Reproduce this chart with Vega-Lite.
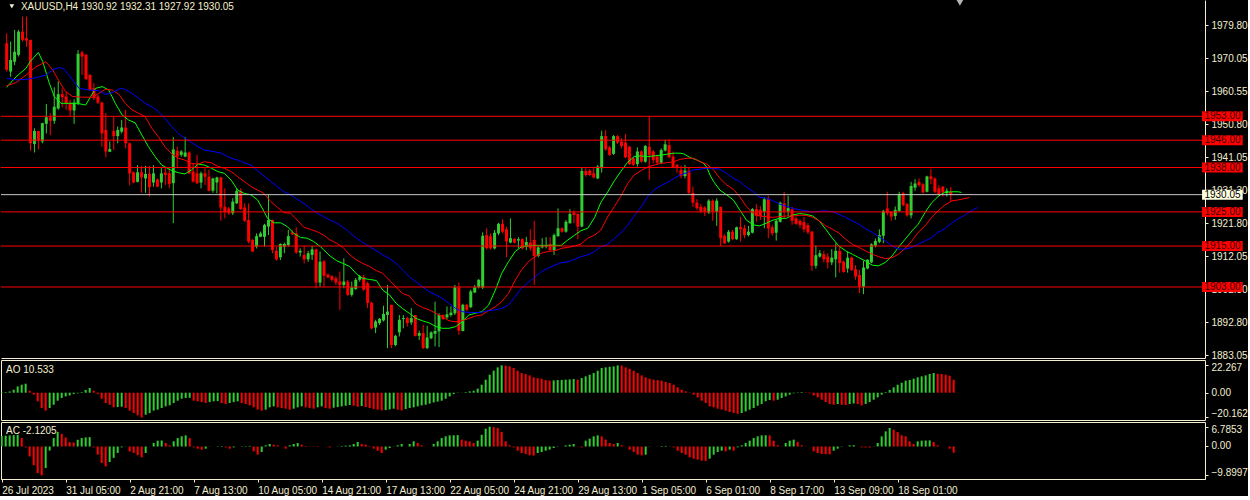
{
"$schema":"https://vega.github.io/schema/vega-lite/v6.json",
"background":"#000000",
"padding":0,
"autosize":{"type":"pad"},
"bounds":"flush",
"spacing":2,
"config":{"view":{"stroke":null},"font":"Liberation Sans",
"axis":{"labelColor":"#F2EED2","domainColor":"#F2EED2","tickColor":"#F2EED2","labelFont":"Liberation Sans","labelFontSize":10,"grid":false,"labelFlush":false,"labelOverlap":false}},
"datasets":{
"bars":[
{"i":0,"o":1974.4,"h":1977.3,"l":1966.1,"c":1966.6,"ao":0.3,"ac":3.6},
{"i":1,"o":1966.1,"h":1974.9,"l":1964.6,"c":1969.5,"ao":0.5,"ac":3.7},
{"i":2,"o":1969.0,"h":1978.3,"l":1968.0,"c":1971.9,"ao":1.0,"ac":3.8},
{"i":3,"o":1971.0,"h":1978.3,"l":1970.5,"c":1977.8,"ao":2.4,"ac":3.9},
{"i":4,"o":1977.8,"h":1982.2,"l":1974.9,"c":1975.4,"ao":5.1,"ac":4.0},
{"i":5,"o":1975.9,"h":1982.2,"l":1973.4,"c":1975.2,"ao":6.5,"ac":2.9},
{"i":6,"o":1975.4,"h":1975.4,"l":1942.9,"c":1945.1,"ao":7.3,"ac":-0.3},
{"i":7,"o":1944.9,"h":1949.5,"l":1942.4,"c":1948.7,"ao":1.6,"ac":-3.4},
{"i":8,"o":1948.7,"h":1948.7,"l":1943.3,"c":1946.1,"ao":-1.6,"ac":-6.4},
{"i":9,"o":1945.6,"h":1951.1,"l":1945.1,"c":1951.0,"ao":-7.0,"ac":-9.1},
{"i":10,"o":1950.8,"h":1956.6,"l":1948.0,"c":1952.7,"ao":-12.5,"ac":-9.8997},
{"i":11,"o":1952.7,"h":1953.9,"l":1947.5,"c":1951.7,"ao":-14.6,"ac":-7.4},
{"i":12,"o":1951.7,"h":1961.5,"l":1950.8,"c":1955.8,"ao":-12.5,"ac":-1.4},
{"i":13,"o":1955.3,"h":1963.2,"l":1954.9,"c":1959.5,"ao":-9.8,"ac":2.9},
{"i":14,"o":1959.5,"h":1961.2,"l":1955.6,"c":1958.6,"ao":-6.5,"ac":5.0},
{"i":15,"o":1958.8,"h":1960.2,"l":1954.9,"c":1956.6,"ao":-4.3,"ac":4.3},
{"i":16,"o":1957.0,"h":1957.8,"l":1953.1,"c":1954.7,"ao":-3.0,"ac":3.1},
{"i":17,"o":1954.7,"h":1958.0,"l":1950.8,"c":1957.0,"ao":-2.2,"ac":1.5},
{"i":18,"o":1956.8,"h":1972.4,"l":1956.3,"c":1971.3,"ao":-1.1,"ac":1.4},
{"i":19,"o":1971.7,"h":1972.2,"l":1965.1,"c":1970.5,"ao":-0.5,"ac":2.3},
{"i":20,"o":1971.0,"h":1971.3,"l":1963.6,"c":1963.9,"ao":0.5,"ac":2.9},
{"i":21,"o":1965.1,"h":1965.4,"l":1960.5,"c":1960.7,"ao":2.2,"ac":3.1},
{"i":22,"o":1961.2,"h":1962.7,"l":1957.8,"c":1958.3,"ao":3.8,"ac":3.2},
{"i":23,"o":1958.8,"h":1959.3,"l":1956.6,"c":1957.0,"ao":1.6,"ac":-0.3},
{"i":24,"o":1957.0,"h":1957.3,"l":1944.1,"c":1948.0,"ao":-1.1,"ac":-2.8},
{"i":25,"o":1949.0,"h":1953.9,"l":1941.0,"c":1942.7,"ao":-4.9,"ac":-5.65},
{"i":26,"o":1942.6,"h":1945.6,"l":1942.6,"c":1943.4,"ao":-8.4,"ac":-6.8},
{"i":27,"o":1948.7,"h":1952.9,"l":1943.1,"c":1947.2,"ao":-9.8,"ac":-5.3},
{"i":28,"o":1947.2,"h":1950.0,"l":1945.1,"c":1949.0,"ao":-11.9,"ac":-3.9},
{"i":29,"o":1948.5,"h":1951.9,"l":1948.0,"c":1949.7,"ao":-11.7,"ac":-2.2},
{"i":30,"o":1949.7,"h":1954.9,"l":1943.6,"c":1945.1,"ao":-11.4,"ac":-0.3},
{"i":31,"o":1945.1,"h":1945.3,"l":1932.8,"c":1936.3,"ao":-12.5,"ac":-0.05},
{"i":32,"o":1936.6,"h":1936.8,"l":1933.4,"c":1933.6,"ao":-14.6,"ac":-1.7},
{"i":33,"o":1933.8,"h":1938.7,"l":1933.6,"c":1936.6,"ao":-16.5,"ac":-2.2},
{"i":34,"o":1936.6,"h":1938.5,"l":1930.6,"c":1935.1,"ao":-18.4,"ac":-3.0},
{"i":35,"o":1934.8,"h":1938.5,"l":1930.6,"c":1936.1,"ao":-20.16,"ac":-3.7},
{"i":36,"o":1936.1,"h":1938.5,"l":1929.5,"c":1932.2,"ao":-17.9,"ac":-2.2},
{"i":37,"o":1933.6,"h":1938.7,"l":1932.4,"c":1936.3,"ao":-16.5,"ac":-0.05},
{"i":38,"o":1934.5,"h":1934.8,"l":1932.2,"c":1932.4,"ao":-14.6,"ac":1.2},
{"i":39,"o":1933.6,"h":1937.8,"l":1931.9,"c":1936.3,"ao":-13.8,"ac":2.0},
{"i":40,"o":1936.5,"h":1937.8,"l":1932.9,"c":1935.8,"ao":-12.5,"ac":2.05},
{"i":41,"o":1936.3,"h":1937.8,"l":1931.9,"c":1933.2,"ao":-11.1,"ac":1.2},
{"i":42,"o":1933.4,"h":1946.9,"l":1921.7,"c":1943.3,"ao":-10.3,"ac":0.4},
{"i":43,"o":1942.9,"h":1944.1,"l":1937.8,"c":1941.2,"ao":-8.4,"ac":1.8},
{"i":44,"o":1941.7,"h":1943.1,"l":1941.2,"c":1942.7,"ao":-6.5,"ac":2.9},
{"i":45,"o":1941.2,"h":1946.9,"l":1941.0,"c":1942.4,"ao":-4.9,"ac":3.5},
{"i":46,"o":1942.4,"h":1942.7,"l":1936.1,"c":1936.3,"ao":-4.3,"ac":3.8},
{"i":47,"o":1936.8,"h":1939.2,"l":1933.6,"c":1933.9,"ao":-4.1,"ac":2.9},
{"i":48,"o":1936.3,"h":1941.7,"l":1933.2,"c":1933.4,"ao":-6.5,"ac":-0.3},
{"i":49,"o":1933.6,"h":1936.8,"l":1931.9,"c":1936.3,"ao":-7.0,"ac":-0.75},
{"i":50,"o":1936.3,"h":1937.8,"l":1932.9,"c":1935.3,"ao":-7.6,"ac":-1.1},
{"i":51,"o":1935.3,"h":1937.3,"l":1931.0,"c":1931.2,"ao":-8.4,"ac":-0.75},
{"i":52,"o":1931.2,"h":1935.0,"l":1930.6,"c":1934.8,"ao":-7.6,"ac":-0.05},
{"i":53,"o":1933.6,"h":1935.3,"l":1930.4,"c":1935.1,"ao":-7.0,"ac":0.0},
{"i":54,"o":1935.1,"h":1935.3,"l":1922.4,"c":1926.3,"ao":-6.8,"ac":0.1},
{"i":55,"o":1926.5,"h":1931.9,"l":1923.1,"c":1925.0,"ao":-8.4,"ac":0.17},
{"i":56,"o":1926.0,"h":1926.5,"l":1924.1,"c":1924.6,"ao":-9.2,"ac":-0.3},
{"i":57,"o":1924.6,"h":1929.0,"l":1924.1,"c":1928.0,"ao":-8.4,"ac":-0.75},
{"i":58,"o":1927.5,"h":1931.9,"l":1927.3,"c":1931.2,"ao":-7.6,"ac":-0.3},
{"i":59,"o":1931.2,"h":1931.9,"l":1925.6,"c":1925.8,"ao":-7.0,"ac":0.0},
{"i":60,"o":1926.3,"h":1927.5,"l":1922.1,"c":1922.4,"ao":-8.4,"ac":0.1},
{"i":61,"o":1922.6,"h":1927.5,"l":1915.8,"c":1916.3,"ao":-9.2,"ac":0.15},
{"i":62,"o":1916.8,"h":1917.0,"l":1913.3,"c":1913.4,"ao":-10.3,"ac":0.2},
{"i":63,"o":1914.8,"h":1918.7,"l":1914.3,"c":1917.9,"ao":-11.9,"ac":-1.66},
{"i":64,"o":1917.7,"h":1919.2,"l":1917.6,"c":1918.7,"ao":-13.8,"ac":-2.8},
{"i":65,"o":1917.7,"h":1921.5,"l":1914.8,"c":1921.2,"ao":-14.6,"ac":-1.9},
{"i":66,"o":1920.7,"h":1930.2,"l":1918.2,"c":1922.6,"ao":-13.8,"ac":0.4},
{"i":67,"o":1922.6,"h":1922.8,"l":1912.9,"c":1913.8,"ao":-11.9,"ac":0.86},
{"i":68,"o":1913.6,"h":1914.8,"l":1910.7,"c":1911.1,"ao":-11.1,"ac":0.63},
{"i":69,"o":1911.7,"h":1915.8,"l":1910.9,"c":1915.6,"ao":-11.9,"ac":0.4},
{"i":70,"o":1914.8,"h":1916.0,"l":1912.9,"c":1915.6,"ao":-12.5,"ac":0.0},
{"i":71,"o":1915.3,"h":1919.7,"l":1914.8,"c":1917.9,"ao":-13.0,"ac":-0.74},
{"i":72,"o":1919.0,"h":1919.7,"l":1918.2,"c":1918.4,"ao":-13.8,"ac":0.4},
{"i":73,"o":1918.7,"h":1920.5,"l":1912.7,"c":1913.1,"ao":-13.0,"ac":0.86},
{"i":74,"o":1913.1,"h":1914.3,"l":1911.9,"c":1913.6,"ao":-11.9,"ac":1.2},
{"i":75,"o":1912.4,"h":1915.0,"l":1909.9,"c":1911.1,"ao":-11.1,"ac":0.63},
{"i":76,"o":1911.1,"h":1913.6,"l":1910.4,"c":1912.9,"ao":-11.9,"ac":0.17},
{"i":77,"o":1912.4,"h":1915.0,"l":1910.9,"c":1914.0,"ao":-12.5,"ac":-0.06},
{"i":78,"o":1914.0,"h":1914.3,"l":1902.6,"c":1904.3,"ao":-13.0,"ac":-0.1},
{"i":79,"o":1904.3,"h":1913.4,"l":1903.1,"c":1910.4,"ao":-11.9,"ac":-0.12},
{"i":80,"o":1910.5,"h":1910.9,"l":1903.1,"c":1906.3,"ao":-11.1,"ac":0.0},
{"i":81,"o":1906.6,"h":1907.0,"l":1905.6,"c":1905.8,"ao":-12.5,"ac":-0.05},
{"i":82,"o":1906.1,"h":1906.5,"l":1904.6,"c":1905.1,"ao":-13.0,"ac":-0.3},
{"i":83,"o":1905.5,"h":1906.1,"l":1903.6,"c":1904.3,"ao":-12.2,"ac":0.0},
{"i":84,"o":1904.6,"h":1907.5,"l":1896.3,"c":1903.6,"ao":-11.7,"ac":0.06},
{"i":85,"o":1903.6,"h":1911.4,"l":1902.6,"c":1904.6,"ao":-11.1,"ac":0.17},
{"i":86,"o":1904.6,"h":1905.1,"l":1900.4,"c":1900.7,"ao":-10.6,"ac":0.29},
{"i":87,"o":1900.7,"h":1904.6,"l":1900.2,"c":1902.9,"ao":-10.0,"ac":0.4},
{"i":88,"o":1902.4,"h":1905.6,"l":1902.2,"c":1905.1,"ao":-10.6,"ac":0.86},
{"i":89,"o":1905.1,"h":1906.5,"l":1904.6,"c":1906.1,"ao":-11.4,"ac":1.54},
{"i":90,"o":1905.9,"h":1906.6,"l":1901.9,"c":1902.2,"ao":-10.8,"ac":0.86},
{"i":91,"o":1904.1,"h":1904.6,"l":1896.8,"c":1898.3,"ao":-11.7,"ac":0.63},
{"i":92,"o":1898.4,"h":1898.7,"l":1890.6,"c":1890.9,"ao":-12.5,"ac":0.17},
{"i":93,"o":1891.1,"h":1893.4,"l":1889.5,"c":1892.9,"ao":-13.3,"ac":-0.74},
{"i":94,"o":1892.4,"h":1893.9,"l":1891.9,"c":1893.7,"ao":-13.8,"ac":-1.43},
{"i":95,"o":1893.2,"h":1897.5,"l":1892.9,"c":1895.1,"ao":-14.4,"ac":-2.23},
{"i":96,"o":1894.8,"h":1903.6,"l":1885.1,"c":1895.8,"ao":-14.1,"ac":-1.08},
{"i":97,"o":1897.8,"h":1897.8,"l":1885.1,"c":1886.0,"ao":-13.6,"ac":-0.51},
{"i":98,"o":1886.0,"h":1889.0,"l":1885.6,"c":1888.7,"ao":-13.0,"ac":0.06},
{"i":99,"o":1889.7,"h":1894.8,"l":1888.5,"c":1893.4,"ao":-13.8,"ac":0.4},
{"i":100,"o":1893.6,"h":1894.8,"l":1890.9,"c":1893.9,"ao":-14.4,"ac":0.86},
{"i":101,"o":1893.9,"h":1894.3,"l":1891.4,"c":1892.4,"ao":-13.3,"ac":0.0},
{"i":102,"o":1892.6,"h":1896.8,"l":1891.9,"c":1893.9,"ao":-12.5,"ac":0.86},
{"i":103,"o":1894.8,"h":1894.8,"l":1888.5,"c":1888.7,"ao":-11.9,"ac":1.77},
{"i":104,"o":1888.7,"h":1890.2,"l":1887.5,"c":1889.5,"ao":-11.1,"ac":1.2},
{"i":105,"o":1889.5,"h":1891.9,"l":1884.8,"c":1885.1,"ao":-10.3,"ac":0.4},
{"i":106,"o":1885.1,"h":1891.6,"l":1884.8,"c":1888.2,"ao":-9.8,"ac":0.06},
{"i":107,"o":1888.0,"h":1890.0,"l":1887.7,"c":1889.7,"ao":-8.9,"ac":0.0},
{"i":108,"o":1889.3,"h":1898.7,"l":1885.6,"c":1890.1,"ao":-7.9,"ac":0.86},
{"i":109,"o":1890.0,"h":1895.3,"l":1885.4,"c":1894.8,"ao":-7.2,"ac":1.77},
{"i":110,"o":1894.8,"h":1895.0,"l":1893.4,"c":1893.6,"ao":-6.5,"ac":2.91},
{"i":111,"o":1894.1,"h":1897.3,"l":1893.6,"c":1895.0,"ao":-4.9,"ac":3.48},
{"i":112,"o":1894.8,"h":1897.3,"l":1894.3,"c":1895.5,"ao":-3.0,"ac":3.82},
{"i":113,"o":1895.3,"h":1903.6,"l":1894.8,"c":1902.9,"ao":-1.1,"ac":3.85},
{"i":114,"o":1902.9,"h":1904.3,"l":1889.0,"c":1890.2,"ao":-0.2,"ac":3.9},
{"i":115,"o":1890.1,"h":1898.1,"l":1890.0,"c":1897.8,"ao":0.1,"ac":2.34},
{"i":116,"o":1897.8,"h":1898.1,"l":1896.0,"c":1896.3,"ao":0.5,"ac":2.0},
{"i":117,"o":1897.1,"h":1902.2,"l":1896.8,"c":1901.7,"ao":1.1,"ac":1.77},
{"i":118,"o":1901.4,"h":1903.6,"l":1901.2,"c":1902.9,"ao":1.6,"ac":1.2},
{"i":119,"o":1902.9,"h":1905.3,"l":1902.6,"c":1905.1,"ao":3.3,"ac":2.0},
{"i":120,"o":1902.8,"h":1919.0,"l":1902.4,"c":1918.0,"ao":6.5,"ac":4.0},
{"i":121,"o":1918.2,"h":1920.2,"l":1914.0,"c":1914.4,"ao":10.6,"ac":6.1},
{"i":122,"o":1917.9,"h":1918.7,"l":1914.0,"c":1914.3,"ao":14.6,"ac":6.7853},
{"i":123,"o":1914.3,"h":1919.7,"l":1914.0,"c":1918.9,"ao":17.9,"ac":6.6},
{"i":124,"o":1918.7,"h":1921.8,"l":1918.2,"c":1921.5,"ao":20.6,"ac":6.3},
{"i":125,"o":1921.5,"h":1922.8,"l":1918.7,"c":1919.2,"ao":22.267,"ac":5.0},
{"i":126,"o":1919.9,"h":1920.7,"l":1911.7,"c":1916.3,"ao":22.0,"ac":1.77},
{"i":127,"o":1916.0,"h":1923.1,"l":1915.8,"c":1917.3,"ao":21.4,"ac":0.4},
{"i":128,"o":1917.1,"h":1917.3,"l":1915.8,"c":1916.0,"ao":20.1,"ac":-0.29},
{"i":129,"o":1916.6,"h":1917.6,"l":1914.3,"c":1917.0,"ao":17.9,"ac":-1.43},
{"i":130,"o":1917.0,"h":1917.3,"l":1914.0,"c":1914.3,"ao":16.0,"ac":-2.23},
{"i":131,"o":1914.8,"h":1917.7,"l":1913.8,"c":1916.2,"ao":15.2,"ac":-2.57},
{"i":132,"o":1916.0,"h":1919.9,"l":1913.6,"c":1914.3,"ao":14.1,"ac":-3.03},
{"i":133,"o":1916.8,"h":1922.4,"l":1903.6,"c":1912.1,"ao":12.5,"ac":-3.1},
{"i":134,"o":1912.1,"h":1915.0,"l":1911.7,"c":1914.6,"ao":11.9,"ac":-2.23},
{"i":135,"o":1914.6,"h":1917.3,"l":1914.3,"c":1915.3,"ao":11.4,"ac":-1.89},
{"i":136,"o":1914.8,"h":1917.6,"l":1914.3,"c":1915.3,"ao":10.3,"ac":-1.43},
{"i":137,"o":1915.6,"h":1917.6,"l":1913.6,"c":1913.8,"ao":9.8,"ac":-1.08},
{"i":138,"o":1913.8,"h":1918.7,"l":1912.4,"c":1918.2,"ao":10.0,"ac":-0.51},
{"i":139,"o":1917.9,"h":1926.0,"l":1917.7,"c":1920.2,"ao":10.3,"ac":-0.1},
{"i":140,"o":1920.2,"h":1920.5,"l":1918.9,"c":1919.2,"ao":10.4,"ac":0.0},
{"i":141,"o":1919.2,"h":1922.6,"l":1918.9,"c":1922.1,"ao":10.6,"ac":0.4},
{"i":142,"o":1921.7,"h":1925.8,"l":1921.5,"c":1924.4,"ao":10.8,"ac":0.63},
{"i":143,"o":1924.8,"h":1925.4,"l":1921.7,"c":1924.1,"ao":11.1,"ac":0.86},
{"i":144,"o":1924.4,"h":1924.6,"l":1917.0,"c":1920.7,"ao":10.6,"ac":0.06},
{"i":145,"o":1920.7,"h":1938.1,"l":1920.5,"c":1937.0,"ao":11.9,"ac":-0.29},
{"i":146,"o":1937.0,"h":1937.8,"l":1935.3,"c":1935.8,"ao":13.3,"ac":2.0},
{"i":147,"o":1937.1,"h":1937.5,"l":1935.5,"c":1935.8,"ao":14.6,"ac":2.68},
{"i":148,"o":1936.3,"h":1937.8,"l":1934.8,"c":1935.1,"ao":16.0,"ac":3.48},
{"i":149,"o":1934.8,"h":1938.7,"l":1934.6,"c":1938.3,"ao":17.9,"ac":3.82},
{"i":150,"o":1937.8,"h":1948.8,"l":1936.5,"c":1947.2,"ao":20.1,"ac":3.48},
{"i":151,"o":1947.2,"h":1949.0,"l":1942.9,"c":1943.3,"ao":20.6,"ac":2.34},
{"i":152,"o":1943.9,"h":1944.3,"l":1941.4,"c":1941.7,"ao":21.1,"ac":1.2},
{"i":153,"o":1942.0,"h":1947.5,"l":1941.7,"c":1947.2,"ao":21.4,"ac":0.86},
{"i":154,"o":1947.2,"h":1947.5,"l":1944.9,"c":1945.3,"ao":22.2,"ac":1.2},
{"i":155,"o":1945.6,"h":1946.6,"l":1943.6,"c":1944.3,"ao":22.0,"ac":0.4},
{"i":156,"o":1945.3,"h":1947.8,"l":1940.7,"c":1941.0,"ao":20.6,"ac":0.06},
{"i":157,"o":1944.1,"h":1944.3,"l":1938.8,"c":1939.0,"ao":19.5,"ac":-1.08},
{"i":158,"o":1940.7,"h":1941.2,"l":1938.5,"c":1938.8,"ao":17.9,"ac":-1.89},
{"i":159,"o":1939.0,"h":1943.9,"l":1938.3,"c":1942.7,"ao":16.0,"ac":-2.8},
{"i":160,"o":1942.7,"h":1943.0,"l":1939.4,"c":1939.7,"ao":14.1,"ac":-3.03},
{"i":161,"o":1939.7,"h":1944.6,"l":1939.4,"c":1944.3,"ao":12.5,"ac":-2.8},
{"i":162,"o":1944.1,"h":1952.9,"l":1934.4,"c":1941.7,"ao":11.4,"ac":0.06},
{"i":163,"o":1942.7,"h":1943.1,"l":1939.2,"c":1940.2,"ao":10.6,"ac":0.0},
{"i":164,"o":1941.2,"h":1941.7,"l":1939.0,"c":1939.4,"ao":10.3,"ac":-0.05},
{"i":165,"o":1939.4,"h":1943.6,"l":1939.0,"c":1943.1,"ao":9.8,"ac":0.17},
{"i":166,"o":1943.0,"h":1946.1,"l":1942.7,"c":1944.8,"ao":8.7,"ac":0.2},
{"i":167,"o":1944.6,"h":1946.3,"l":1940.7,"c":1941.0,"ao":7.9,"ac":0.06},
{"i":168,"o":1941.2,"h":1942.7,"l":1937.8,"c":1938.1,"ao":6.5,"ac":-0.29},
{"i":169,"o":1938.8,"h":1939.0,"l":1936.5,"c":1938.1,"ao":4.3,"ac":-1.43},
{"i":170,"o":1937.3,"h":1938.5,"l":1934.8,"c":1935.5,"ao":2.4,"ac":-2.23},
{"i":171,"o":1935.5,"h":1938.8,"l":1934.8,"c":1937.1,"ao":1.1,"ac":-2.8},
{"i":172,"o":1937.1,"h":1938.1,"l":1930.3,"c":1930.6,"ao":-0.2,"ac":-3.71},
{"i":173,"o":1930.6,"h":1932.4,"l":1926.5,"c":1927.7,"ao":-1.6,"ac":-4.17},
{"i":174,"o":1927.7,"h":1928.7,"l":1925.6,"c":1926.1,"ao":-3.8,"ac":-4.51},
{"i":175,"o":1926.5,"h":1927.3,"l":1924.6,"c":1925.1,"ao":-6.5,"ac":-4.85},
{"i":176,"o":1926.3,"h":1926.7,"l":1923.8,"c":1925.1,"ao":-8.4,"ac":-4.9},
{"i":177,"o":1924.8,"h":1928.7,"l":1924.4,"c":1928.3,"ao":-11.1,"ac":-4.17},
{"i":178,"o":1928.3,"h":1928.7,"l":1922.4,"c":1925.1,"ao":-11.9,"ac":-2.8},
{"i":179,"o":1925.1,"h":1929.0,"l":1920.9,"c":1928.3,"ao":-13.0,"ac":-1.89},
{"i":180,"o":1926.5,"h":1926.5,"l":1915.0,"c":1917.3,"ao":-13.8,"ac":-1.43},
{"i":181,"o":1918.0,"h":1918.5,"l":1915.6,"c":1915.8,"ao":-14.6,"ac":-1.66},
{"i":182,"o":1916.3,"h":1919.7,"l":1916.0,"c":1919.2,"ao":-15.7,"ac":-1.08},
{"i":183,"o":1919.2,"h":1919.7,"l":1916.8,"c":1917.0,"ao":-16.5,"ac":-1.43},
{"i":184,"o":1917.0,"h":1920.7,"l":1916.8,"c":1920.5,"ao":-17.1,"ac":-0.29},
{"i":185,"o":1920.5,"h":1923.6,"l":1916.3,"c":1919.9,"ao":-16.5,"ac":0.4},
{"i":186,"o":1920.2,"h":1921.2,"l":1917.3,"c":1918.2,"ao":-15.2,"ac":1.2},
{"i":187,"o":1918.2,"h":1920.9,"l":1917.8,"c":1919.2,"ao":-13.8,"ac":2.0},
{"i":188,"o":1918.9,"h":1926.1,"l":1918.7,"c":1925.8,"ao":-12.5,"ac":2.91},
{"i":189,"o":1925.8,"h":1927.3,"l":1922.1,"c":1923.8,"ao":-10.6,"ac":3.48},
{"i":190,"o":1925.6,"h":1926.7,"l":1922.6,"c":1923.8,"ao":-9.2,"ac":3.82},
{"i":191,"o":1925.1,"h":1929.3,"l":1920.2,"c":1928.7,"ao":-7.0,"ac":3.85},
{"i":192,"o":1928.7,"h":1929.7,"l":1917.3,"c":1920.2,"ao":-6.0,"ac":3.8},
{"i":193,"o":1920.5,"h":1921.2,"l":1918.0,"c":1918.7,"ao":-6.5,"ac":2.0},
{"i":194,"o":1918.9,"h":1922.8,"l":1916.6,"c":1922.4,"ao":-5.7,"ac":0.4},
{"i":195,"o":1922.1,"h":1928.0,"l":1921.9,"c":1927.7,"ao":-4.3,"ac":0.06},
{"i":196,"o":1927.5,"h":1930.9,"l":1923.1,"c":1925.1,"ao":-3.0,"ac":1.2},
{"i":197,"o":1925.1,"h":1929.7,"l":1923.8,"c":1926.1,"ao":-1.6,"ac":2.0},
{"i":198,"o":1925.8,"h":1926.5,"l":1921.2,"c":1922.4,"ao":-0.5,"ac":2.34},
{"i":199,"o":1923.1,"h":1923.6,"l":1921.2,"c":1921.5,"ao":0.3,"ac":1.54},
{"i":200,"o":1922.4,"h":1922.8,"l":1920.2,"c":1921.2,"ao":0.5,"ac":0.4},
{"i":201,"o":1922.0,"h":1923.5,"l":1919.0,"c":1919.9,"ao":0.3,"ac":0.06},
{"i":202,"o":1921.1,"h":1921.7,"l":1918.5,"c":1919.0,"ao":-0.5,"ac":0.0},
{"i":203,"o":1919.2,"h":1919.4,"l":1907.7,"c":1909.2,"ao":-2.2,"ac":-1.66},
{"i":204,"o":1909.2,"h":1915.2,"l":1908.4,"c":1912.3,"ao":-3.8,"ac":-2.23},
{"i":205,"o":1911.9,"h":1913.8,"l":1911.6,"c":1912.9,"ao":-5.7,"ac":-2.57},
{"i":206,"o":1912.6,"h":1913.6,"l":1910.2,"c":1911.1,"ao":-7.6,"ac":-2.6},
{"i":207,"o":1911.9,"h":1912.9,"l":1908.4,"c":1910.2,"ao":-9.2,"ac":-2.65},
{"i":208,"o":1910.2,"h":1914.1,"l":1909.4,"c":1911.6,"ao":-9.8,"ac":-1.43},
{"i":209,"o":1911.1,"h":1915.8,"l":1905.8,"c":1913.6,"ao":-9.2,"ac":-0.74},
{"i":210,"o":1913.6,"h":1915.1,"l":1907.2,"c":1910.0,"ao":-9.8,"ac":-0.1},
{"i":211,"o":1910.4,"h":1910.7,"l":1907.2,"c":1907.4,"ao":-10.0,"ac":0.0},
{"i":212,"o":1908.4,"h":1913.3,"l":1907.2,"c":1911.6,"ao":-9.2,"ac":0.4},
{"i":213,"o":1911.6,"h":1911.9,"l":1907.7,"c":1908.0,"ao":-8.7,"ac":0.45},
{"i":214,"o":1908.2,"h":1909.4,"l":1905.1,"c":1906.1,"ao":-9.2,"ac":0.0},
{"i":215,"o":1906.5,"h":1908.0,"l":1901.2,"c":1903.1,"ao":-10.3,"ac":-0.29},
{"i":216,"o":1903.1,"h":1910.7,"l":1900.9,"c":1908.7,"ao":-9.2,"ac":-0.32},
{"i":217,"o":1908.4,"h":1911.1,"l":1908.2,"c":1911.0,"ao":-7.6,"ac":-0.35},
{"i":218,"o":1910.2,"h":1915.8,"l":1910.0,"c":1915.5,"ao":-5.7,"ac":0.06},
{"i":219,"o":1915.1,"h":1917.2,"l":1914.6,"c":1916.5,"ao":-3.8,"ac":1.2},
{"i":220,"o":1916.2,"h":1919.9,"l":1915.8,"c":1918.2,"ao":-1.6,"ac":3.48},
{"i":221,"o":1918.0,"h":1925.6,"l":1915.8,"c":1925.3,"ao":0.5,"ac":5.19},
{"i":222,"o":1926.0,"h":1930.9,"l":1924.0,"c":1924.6,"ao":2.2,"ac":6.34},
{"i":223,"o":1925.0,"h":1925.3,"l":1922.4,"c":1923.6,"ao":4.3,"ac":5.77},
{"i":224,"o":1923.8,"h":1926.6,"l":1922.7,"c":1925.6,"ao":6.5,"ac":4.97},
{"i":225,"o":1925.3,"h":1930.9,"l":1925.0,"c":1930.2,"ao":8.1,"ac":3.82},
{"i":226,"o":1930.5,"h":1930.9,"l":1926.6,"c":1927.0,"ao":9.8,"ac":3.48},
{"i":227,"o":1927.3,"h":1927.6,"l":1923.6,"c":1924.0,"ao":10.3,"ac":1.77},
{"i":228,"o":1924.0,"h":1933.8,"l":1923.1,"c":1932.6,"ao":11.4,"ac":0.86},
{"i":229,"o":1932.1,"h":1934.6,"l":1931.2,"c":1933.3,"ao":12.5,"ac":1.77},
{"i":230,"o":1933.8,"h":1934.8,"l":1932.4,"c":1932.8,"ao":13.3,"ac":2.0},
{"i":231,"o":1933.1,"h":1933.4,"l":1930.4,"c":1930.7,"ao":14.1,"ac":2.05},
{"i":232,"o":1930.9,"h":1935.6,"l":1930.7,"c":1935.4,"ao":15.2,"ac":2.1},
{"i":233,"o":1935.4,"h":1937.5,"l":1933.1,"c":1934.6,"ao":16.0,"ac":1.54},
{"i":234,"o":1934.8,"h":1935.1,"l":1930.5,"c":1930.9,"ao":15.4,"ac":0.4},
{"i":235,"o":1931.9,"h":1932.8,"l":1929.7,"c":1930.2,"ao":15.2,"ac":0.0},
{"i":236,"o":1932.4,"h":1932.6,"l":1929.5,"c":1930.7,"ao":14.6,"ac":-0.05},
{"i":237,"o":1930.5,"h":1931.9,"l":1929.5,"c":1931.2,"ao":13.8,"ac":-0.74},
{"i":238,"o":1930.92,"h":1932.31,"l":1927.92,"c":1930.05,"ao":10.533,"ac":-2.1205}
],
"ma":[
{"s":"lips","i":0,"v":1961.5},{"s":"lips","i":2.4,"v":1964.6},{"s":"lips","i":4.9,"v":1967.1},{"s":"lips","i":5.9,"v":1969.0},{"s":"lips","i":8.0,"v":1971.7},{"s":"lips","i":9.1,"v":1969.0},{"s":"lips","i":10.75,"v":1962.7},{"s":"lips","i":12.0,"v":1958.8},{"s":"lips","i":13.7,"v":1956.8},{"s":"lips","i":16.2,"v":1956.8},{"s":"lips","i":17.8,"v":1956.8},{"s":"lips","i":19.9,"v":1956.3},{"s":"lips","i":21.2,"v":1958.8},{"s":"lips","i":22.4,"v":1961.2},{"s":"lips","i":24.1,"v":1961.7},{"s":"lips","i":25.75,"v":1960.7},{"s":"lips","i":27.4,"v":1956.8},{"s":"lips","i":29.1,"v":1953.4},{"s":"lips","i":30.75,"v":1951.9},{"s":"lips","i":32.4,"v":1951.1},{"s":"lips","i":34.1,"v":1947.5},{"s":"lips","i":35.75,"v":1944.1},{"s":"lips","i":37.4,"v":1941.2},{"s":"lips","i":39.1,"v":1938.7},{"s":"lips","i":41.6,"v":1937.1},{"s":"lips","i":43.25,"v":1936.5},{"s":"lips","i":44.9,"v":1936.1},{"s":"lips","i":46.6,"v":1937.3},{"s":"lips","i":48.25,"v":1939.0},{"s":"lips","i":49.9,"v":1938.7},{"s":"lips","i":51.6,"v":1937.8},{"s":"lips","i":53.25,"v":1936.8},{"s":"lips","i":54.9,"v":1936.3},{"s":"lips","i":56.6,"v":1934.3},{"s":"lips","i":58.25,"v":1931.4},{"s":"lips","i":59.9,"v":1930.4},{"s":"lips","i":61.6,"v":1930.0},{"s":"lips","i":63.25,"v":1928.5},{"s":"lips","i":64.9,"v":1925.1},{"s":"lips","i":65.75,"v":1923.1},{"s":"lips","i":67.4,"v":1921.8},{"s":"lips","i":69.1,"v":1921.8},{"s":"lips","i":70.75,"v":1920.7},{"s":"lips","i":72.4,"v":1918.7},{"s":"lips","i":74.1,"v":1917.5},{"s":"lips","i":75.75,"v":1917.3},{"s":"lips","i":77.4,"v":1916.3},{"s":"lips","i":79.1,"v":1914.8},{"s":"lips","i":81.5,"v":1912.1},{"s":"lips","i":83.2,"v":1910.7},{"s":"lips","i":84.8,"v":1909.9},{"s":"lips","i":86.5,"v":1909.0},{"s":"lips","i":88.2,"v":1906.8},{"s":"lips","i":89.8,"v":1905.5},{"s":"lips","i":91.5,"v":1905.2},{"s":"lips","i":93.2,"v":1904.9},{"s":"lips","i":94.8,"v":1902.1},{"s":"lips","i":96.5,"v":1900.7},{"s":"lips","i":98.2,"v":1898.2},{"s":"lips","i":99.8,"v":1896.7},{"s":"lips","i":101.5,"v":1895.3},{"s":"lips","i":103.2,"v":1893.8},{"s":"lips","i":104.8,"v":1893.1},{"s":"lips","i":106.5,"v":1892.5},{"s":"lips","i":108.2,"v":1891.4},{"s":"lips","i":109.8,"v":1890.9},{"s":"lips","i":111.5,"v":1890.9},{"s":"lips","i":113.2,"v":1891.4},{"s":"lips","i":114.8,"v":1892.8},{"s":"lips","i":116.5,"v":1894.8},{"s":"lips","i":118.2,"v":1895.3},{"s":"lips","i":119.8,"v":1895.8},{"s":"lips","i":121.5,"v":1897.7},{"s":"lips","i":123.2,"v":1902.1},{"s":"lips","i":124.8,"v":1907.0},{"s":"lips","i":126.5,"v":1910.4},{"s":"lips","i":128.2,"v":1913.4},{"s":"lips","i":129.8,"v":1914.8},{"s":"lips","i":131.5,"v":1915.0},{"s":"lips","i":133.2,"v":1915.2},{"s":"lips","i":136.5,"v":1915.2},{"s":"lips","i":139.8,"v":1915.2},{"s":"lips","i":141.5,"v":1916.8},{"s":"lips","i":143.2,"v":1918.2},{"s":"lips","i":144.8,"v":1919.5},{"s":"lips","i":146.5,"v":1920.2},{"s":"lips","i":148.2,"v":1923.3},{"s":"lips","i":149.8,"v":1927.8},{"s":"lips","i":151.5,"v":1930.8},{"s":"lips","i":153.2,"v":1934.1},{"s":"lips","i":154.8,"v":1936.8},{"s":"lips","i":156.5,"v":1939.5},{"s":"lips","i":158.2,"v":1941.2},{"s":"lips","i":159.8,"v":1941.4},{"s":"lips","i":161.5,"v":1941.2},{"s":"lips","i":163.2,"v":1941.4},{"s":"lips","i":164.8,"v":1941.6},{"s":"lips","i":166.5,"v":1941.9},{"s":"lips","i":168.2,"v":1942.2},{"s":"lips","i":169.8,"v":1942.2},{"s":"lips","i":170.7,"v":1942.0},{"s":"lips","i":172.3,"v":1940.9},{"s":"lips","i":174.0,"v":1940.2},{"s":"lips","i":175.7,"v":1939.2},{"s":"lips","i":176.5,"v":1938.1},{"s":"lips","i":177.3,"v":1935.8},{"s":"lips","i":178.2,"v":1933.9},{"s":"lips","i":179.8,"v":1931.4},{"s":"lips","i":181.5,"v":1930.0},{"s":"lips","i":183.2,"v":1928.5},{"s":"lips","i":184.8,"v":1925.6},{"s":"lips","i":186.5,"v":1922.6},{"s":"lips","i":188.2,"v":1921.2},{"s":"lips","i":189.8,"v":1920.9},{"s":"lips","i":191.5,"v":1921.7},{"s":"lips","i":193.2,"v":1922.6},{"s":"lips","i":194.8,"v":1923.1},{"s":"lips","i":196.5,"v":1923.1},{"s":"lips","i":198.2,"v":1924.1},{"s":"lips","i":199.8,"v":1924.5},{"s":"lips","i":201.5,"v":1924.3},{"s":"lips","i":203.2,"v":1923.8},{"s":"lips","i":204.8,"v":1922.4},{"s":"lips","i":206.5,"v":1919.9},{"s":"lips","i":208.2,"v":1917.2},{"s":"lips","i":209.8,"v":1915.0},{"s":"lips","i":211.5,"v":1913.6},{"s":"lips","i":213.2,"v":1912.6},{"s":"lips","i":214.8,"v":1911.6},{"s":"lips","i":216.5,"v":1910.6},{"s":"lips","i":218.2,"v":1909.4},{"s":"lips","i":219.8,"v":1909.2},{"s":"lips","i":221.5,"v":1910.2},{"s":"lips","i":223.2,"v":1912.1},{"s":"lips","i":224.8,"v":1914.6},{"s":"lips","i":226.5,"v":1917.0},{"s":"lips","i":228.2,"v":1919.4},{"s":"lips","i":229.8,"v":1921.4},{"s":"lips","i":231.5,"v":1924.8},{"s":"lips","i":233.2,"v":1927.7},{"s":"lips","i":234.8,"v":1929.5},{"s":"lips","i":235.7,"v":1930.2},{"s":"lips","i":236.5,"v":1930.7},{"s":"lips","i":238.2,"v":1930.9},{"s":"lips","i":239.8,"v":1930.9},{"s":"lips","i":240.7,"v":1930.7},
{"s":"teeth","i":0,"v":1961.9},{"s":"teeth","i":2.4,"v":1962.9},{"s":"teeth","i":4.9,"v":1965.1},{"s":"teeth","i":7.4,"v":1967.5},{"s":"teeth","i":9.9,"v":1969.0},{"s":"teeth","i":11.6,"v":1966.6},{"s":"teeth","i":13.25,"v":1963.2},{"s":"teeth","i":14.9,"v":1960.2},{"s":"teeth","i":16.6,"v":1958.8},{"s":"teeth","i":19.1,"v":1958.6},{"s":"teeth","i":21.6,"v":1958.6},{"s":"teeth","i":23.25,"v":1959.7},{"s":"teeth","i":24.9,"v":1960.9},{"s":"teeth","i":26.6,"v":1960.7},{"s":"teeth","i":28.25,"v":1959.5},{"s":"teeth","i":29.9,"v":1956.8},{"s":"teeth","i":31.6,"v":1954.9},{"s":"teeth","i":33.25,"v":1953.9},{"s":"teeth","i":34.9,"v":1952.9},{"s":"teeth","i":36.6,"v":1949.5},{"s":"teeth","i":38.25,"v":1947.0},{"s":"teeth","i":39.9,"v":1944.1},{"s":"teeth","i":41.6,"v":1942.0},{"s":"teeth","i":43.25,"v":1940.7},{"s":"teeth","i":44.9,"v":1940.2},{"s":"teeth","i":46.6,"v":1939.2},{"s":"teeth","i":48.25,"v":1939.0},{"s":"teeth","i":49.9,"v":1939.7},{"s":"teeth","i":51.6,"v":1939.4},{"s":"teeth","i":53.25,"v":1938.3},{"s":"teeth","i":54.9,"v":1937.8},{"s":"teeth","i":56.6,"v":1936.8},{"s":"teeth","i":58.25,"v":1935.3},{"s":"teeth","i":59.9,"v":1933.9},{"s":"teeth","i":61.6,"v":1932.4},{"s":"teeth","i":63.25,"v":1931.4},{"s":"teeth","i":64.9,"v":1930.4},{"s":"teeth","i":66.6,"v":1928.0},{"s":"teeth","i":68.25,"v":1926.3},{"s":"teeth","i":69.9,"v":1924.8},{"s":"teeth","i":71.6,"v":1924.6},{"s":"teeth","i":73.25,"v":1922.6},{"s":"teeth","i":74.9,"v":1920.5},{"s":"teeth","i":76.6,"v":1919.9},{"s":"teeth","i":78.25,"v":1919.2},{"s":"teeth","i":79.9,"v":1918.2},{"s":"teeth","i":81.5,"v":1916.8},{"s":"teeth","i":83.2,"v":1915.8},{"s":"teeth","i":84.8,"v":1914.6},{"s":"teeth","i":86.5,"v":1912.4},{"s":"teeth","i":88.2,"v":1910.9},{"s":"teeth","i":89.8,"v":1909.9},{"s":"teeth","i":91.5,"v":1909.0},{"s":"teeth","i":93.2,"v":1907.8},{"s":"teeth","i":94.8,"v":1907.0},{"s":"teeth","i":96.5,"v":1905.0},{"s":"teeth","i":98.2,"v":1902.9},{"s":"teeth","i":99.8,"v":1901.1},{"s":"teeth","i":101.5,"v":1900.4},{"s":"teeth","i":103.2,"v":1898.0},{"s":"teeth","i":104.8,"v":1897.0},{"s":"teeth","i":106.5,"v":1896.3},{"s":"teeth","i":108.2,"v":1895.3},{"s":"teeth","i":109.8,"v":1894.3},{"s":"teeth","i":111.5,"v":1893.1},{"s":"teeth","i":113.2,"v":1892.8},{"s":"teeth","i":114.8,"v":1893.1},{"s":"teeth","i":116.5,"v":1893.8},{"s":"teeth","i":118.2,"v":1894.5},{"s":"teeth","i":119.8,"v":1894.8},{"s":"teeth","i":121.5,"v":1896.1},{"s":"teeth","i":123.2,"v":1897.2},{"s":"teeth","i":124.8,"v":1898.7},{"s":"teeth","i":126.5,"v":1901.1},{"s":"teeth","i":128.2,"v":1905.0},{"s":"teeth","i":129.8,"v":1908.0},{"s":"teeth","i":131.5,"v":1910.4},{"s":"teeth","i":133.2,"v":1911.9},{"s":"teeth","i":134.8,"v":1912.9},{"s":"teeth","i":136.5,"v":1913.4},{"s":"teeth","i":138.2,"v":1913.6},{"s":"teeth","i":139.8,"v":1914.3},{"s":"teeth","i":141.5,"v":1914.6},{"s":"teeth","i":143.2,"v":1915.0},{"s":"teeth","i":144.8,"v":1915.6},{"s":"teeth","i":146.5,"v":1917.3},{"s":"teeth","i":148.2,"v":1918.2},{"s":"teeth","i":149.8,"v":1919.7},{"s":"teeth","i":151.5,"v":1923.5},{"s":"teeth","i":153.2,"v":1926.6},{"s":"teeth","i":154.8,"v":1929.5},{"s":"teeth","i":156.5,"v":1933.2},{"s":"teeth","i":158.2,"v":1935.8},{"s":"teeth","i":159.8,"v":1937.0},{"s":"teeth","i":161.5,"v":1938.1},{"s":"teeth","i":163.2,"v":1938.7},{"s":"teeth","i":164.8,"v":1939.2},{"s":"teeth","i":166.5,"v":1939.4},{"s":"teeth","i":168.2,"v":1939.7},{"s":"teeth","i":169.8,"v":1940.4},{"s":"teeth","i":171.5,"v":1940.7},{"s":"teeth","i":173.2,"v":1940.7},{"s":"teeth","i":174.8,"v":1939.7},{"s":"teeth","i":176.5,"v":1939.0},{"s":"teeth","i":178.2,"v":1937.3},{"s":"teeth","i":179.8,"v":1934.8},{"s":"teeth","i":181.5,"v":1932.9},{"s":"teeth","i":183.2,"v":1931.6},{"s":"teeth","i":184.8,"v":1929.5},{"s":"teeth","i":186.5,"v":1926.5},{"s":"teeth","i":188.2,"v":1924.6},{"s":"teeth","i":189.8,"v":1923.8},{"s":"teeth","i":191.5,"v":1923.6},{"s":"teeth","i":193.2,"v":1923.4},{"s":"teeth","i":194.8,"v":1923.6},{"s":"teeth","i":196.5,"v":1923.8},{"s":"teeth","i":198.2,"v":1923.8},{"s":"teeth","i":199.8,"v":1924.0},{"s":"teeth","i":201.5,"v":1924.0},{"s":"teeth","i":203.2,"v":1923.4},{"s":"teeth","i":204.8,"v":1922.4},{"s":"teeth","i":206.5,"v":1920.9},{"s":"teeth","i":208.2,"v":1919.9},{"s":"teeth","i":209.8,"v":1918.8},{"s":"teeth","i":211.5,"v":1917.0},{"s":"teeth","i":213.2,"v":1915.5},{"s":"teeth","i":214.8,"v":1914.6},{"s":"teeth","i":216.5,"v":1913.6},{"s":"teeth","i":218.2,"v":1912.6},{"s":"teeth","i":219.8,"v":1911.9},{"s":"teeth","i":221.5,"v":1911.3},{"s":"teeth","i":223.2,"v":1911.6},{"s":"teeth","i":224.8,"v":1912.6},{"s":"teeth","i":226.5,"v":1914.3},{"s":"teeth","i":228.2,"v":1916.5},{"s":"teeth","i":229.8,"v":1919.0},{"s":"teeth","i":231.5,"v":1920.9},{"s":"teeth","i":233.2,"v":1923.4},{"s":"teeth","i":234.8,"v":1925.3},{"s":"teeth","i":236.5,"v":1927.0},{"s":"teeth","i":238.2,"v":1928.2},{"s":"teeth","i":239.8,"v":1928.5},{"s":"teeth","i":241.5,"v":1928.9},{"s":"teeth","i":242.7,"v":1929.2},
{"s":"jaw","i":0,"v":1964.1},{"s":"jaw","i":2.4,"v":1963.7},{"s":"jaw","i":4.9,"v":1963.8},{"s":"jaw","i":7.4,"v":1964.3},{"s":"jaw","i":9.9,"v":1965.1},{"s":"jaw","i":11.6,"v":1966.6},{"s":"jaw","i":13.25,"v":1967.3},{"s":"jaw","i":14.5,"v":1966.8},{"s":"jaw","i":16.6,"v":1963.7},{"s":"jaw","i":18.25,"v":1961.2},{"s":"jaw","i":20.75,"v":1960.7},{"s":"jaw","i":23.25,"v":1960.5},{"s":"jaw","i":24.9,"v":1959.4},{"s":"jaw","i":26.6,"v":1959.9},{"s":"jaw","i":28.7,"v":1961.2},{"s":"jaw","i":29.9,"v":1960.9},{"s":"jaw","i":31.6,"v":1959.7},{"s":"jaw","i":33.25,"v":1958.3},{"s":"jaw","i":34.9,"v":1956.8},{"s":"jaw","i":36.6,"v":1955.8},{"s":"jaw","i":38.25,"v":1954.4},{"s":"jaw","i":39.9,"v":1952.4},{"s":"jaw","i":41.6,"v":1950.0},{"s":"jaw","i":43.25,"v":1948.0},{"s":"jaw","i":44.9,"v":1946.6},{"s":"jaw","i":46.6,"v":1945.3},{"s":"jaw","i":48.25,"v":1944.1},{"s":"jaw","i":49.9,"v":1943.1},{"s":"jaw","i":52.4,"v":1942.6},{"s":"jaw","i":54.1,"v":1942.2},{"s":"jaw","i":56.6,"v":1940.7},{"s":"jaw","i":58.25,"v":1940.2},{"s":"jaw","i":59.9,"v":1939.4},{"s":"jaw","i":61.6,"v":1938.7},{"s":"jaw","i":63.25,"v":1937.1},{"s":"jaw","i":64.9,"v":1935.5},{"s":"jaw","i":66.6,"v":1933.9},{"s":"jaw","i":68.25,"v":1932.4},{"s":"jaw","i":69.9,"v":1930.9},{"s":"jaw","i":71.6,"v":1930.0},{"s":"jaw","i":73.25,"v":1928.7},{"s":"jaw","i":74.9,"v":1927.5},{"s":"jaw","i":76.6,"v":1926.0},{"s":"jaw","i":78.25,"v":1924.6},{"s":"jaw","i":79.9,"v":1923.6},{"s":"jaw","i":81.5,"v":1922.6},{"s":"jaw","i":83.2,"v":1921.7},{"s":"jaw","i":84.8,"v":1920.5},{"s":"jaw","i":86.5,"v":1918.9},{"s":"jaw","i":88.2,"v":1917.3},{"s":"jaw","i":89.8,"v":1916.0},{"s":"jaw","i":91.5,"v":1914.8},{"s":"jaw","i":93.2,"v":1913.6},{"s":"jaw","i":94.8,"v":1912.4},{"s":"jaw","i":96.5,"v":1911.4},{"s":"jaw","i":98.2,"v":1909.9},{"s":"jaw","i":99.8,"v":1908.0},{"s":"jaw","i":101.5,"v":1906.0},{"s":"jaw","i":103.2,"v":1904.5},{"s":"jaw","i":104.8,"v":1903.1},{"s":"jaw","i":106.5,"v":1901.6},{"s":"jaw","i":108.2,"v":1900.7},{"s":"jaw","i":109.8,"v":1899.7},{"s":"jaw","i":111.5,"v":1898.2},{"s":"jaw","i":113.2,"v":1896.7},{"s":"jaw","i":114.8,"v":1895.8},{"s":"jaw","i":116.5,"v":1895.5},{"s":"jaw","i":118.2,"v":1895.5},{"s":"jaw","i":119.8,"v":1895.6},{"s":"jaw","i":121.5,"v":1896.1},{"s":"jaw","i":123.2,"v":1896.3},{"s":"jaw","i":124.8,"v":1896.7},{"s":"jaw","i":126.5,"v":1897.7},{"s":"jaw","i":128.2,"v":1900.2},{"s":"jaw","i":129.8,"v":1902.6},{"s":"jaw","i":131.5,"v":1904.3},{"s":"jaw","i":133.2,"v":1906.0},{"s":"jaw","i":134.8,"v":1907.5},{"s":"jaw","i":136.5,"v":1908.5},{"s":"jaw","i":138.2,"v":1909.4},{"s":"jaw","i":139.8,"v":1910.1},{"s":"jaw","i":141.5,"v":1910.4},{"s":"jaw","i":143.2,"v":1911.1},{"s":"jaw","i":144.8,"v":1911.9},{"s":"jaw","i":146.5,"v":1912.4},{"s":"jaw","i":148.2,"v":1913.4},{"s":"jaw","i":149.8,"v":1914.8},{"s":"jaw","i":151.5,"v":1915.5},{"s":"jaw","i":153.2,"v":1917.2},{"s":"jaw","i":154.8,"v":1918.8},{"s":"jaw","i":156.5,"v":1921.0},{"s":"jaw","i":158.2,"v":1923.8},{"s":"jaw","i":159.8,"v":1926.2},{"s":"jaw","i":161.5,"v":1929.3},{"s":"jaw","i":163.2,"v":1931.4},{"s":"jaw","i":164.8,"v":1932.6},{"s":"jaw","i":166.5,"v":1933.6},{"s":"jaw","i":168.2,"v":1934.8},{"s":"jaw","i":169.8,"v":1935.8},{"s":"jaw","i":171.5,"v":1936.5},{"s":"jaw","i":173.2,"v":1937.3},{"s":"jaw","i":174.8,"v":1937.5},{"s":"jaw","i":176.5,"v":1937.8},{"s":"jaw","i":178.2,"v":1937.8},{"s":"jaw","i":179.8,"v":1937.5},{"s":"jaw","i":181.5,"v":1936.3},{"s":"jaw","i":183.2,"v":1934.8},{"s":"jaw","i":184.8,"v":1933.9},{"s":"jaw","i":186.5,"v":1932.2},{"s":"jaw","i":188.2,"v":1930.9},{"s":"jaw","i":189.8,"v":1929.3},{"s":"jaw","i":191.5,"v":1929.0},{"s":"jaw","i":193.2,"v":1928.3},{"s":"jaw","i":194.8,"v":1927.3},{"s":"jaw","i":196.5,"v":1926.7},{"s":"jaw","i":198.2,"v":1926.0},{"s":"jaw","i":199.8,"v":1925.6},{"s":"jaw","i":201.5,"v":1925.3},{"s":"jaw","i":203.2,"v":1925.0},{"s":"jaw","i":204.8,"v":1925.2},{"s":"jaw","i":206.5,"v":1925.3},{"s":"jaw","i":208.2,"v":1925.0},{"s":"jaw","i":209.8,"v":1924.3},{"s":"jaw","i":211.5,"v":1923.4},{"s":"jaw","i":213.2,"v":1922.4},{"s":"jaw","i":214.8,"v":1921.4},{"s":"jaw","i":216.5,"v":1920.1},{"s":"jaw","i":218.2,"v":1919.0},{"s":"jaw","i":219.8,"v":1917.8},{"s":"jaw","i":221.5,"v":1916.5},{"s":"jaw","i":223.2,"v":1915.0},{"s":"jaw","i":224.8,"v":1914.1},{"s":"jaw","i":226.5,"v":1914.1},{"s":"jaw","i":228.2,"v":1914.6},{"s":"jaw","i":229.8,"v":1915.5},{"s":"jaw","i":231.5,"v":1916.5},{"s":"jaw","i":233.2,"v":1917.5},{"s":"jaw","i":234.8,"v":1919.0},{"s":"jaw","i":236.5,"v":1920.1},{"s":"jaw","i":238.2,"v":1921.7},{"s":"jaw","i":239.8,"v":1922.9},{"s":"jaw","i":241.5,"v":1924.0},{"s":"jaw","i":243.2,"v":1925.3},{"s":"jaw","i":244.8,"v":1926.3}
],
"lv":[{"p":1953,"t":"1953.00"},{"p":1946,"t":"1946.00"},{"p":1938,"t":"1938.00"},{"p":1925,"t":"1925.00"},{"p":1915,"t":"1915.00"},{"p":1903,"t":"1903.00"}],
"bid":[{"p":1930.05,"t":"1930.05"}],
"info":[{"t":"XAUUSD,H4  1930.92 1932.31 1927.92 1930.05"}]
},
"vconcat":[
{
"width":1204,"height":358,
"layer":[
{"data":{"name":"bars"},"mark":{"type":"rule","strokeWidth":1,"clip":true},
 "encoding":{
  "x":{"field":"i","type":"quantitative","title":null,"scale":{"domain":[-0.167,300.833],"nice":false,"zero":false},"axis":{"labels":false,"ticks":false,"domain":true,"orient":"bottom"}},
  "y":{"field":"l","type":"quantitative","title":null,"scale":{"domain":[1882.2,1987.07],"nice":false,"zero":false},"axis":{"orient":"right","values":[1979.8,1970.05,1960.55,1950.8,1941.05,1931.3,1921.8,1912.05,1902.3,1892.8,1883.05],"tickCount":30,"format":".2f","tickSize":3,"labelPadding":3,"labelOffset":0.6,"domain":true,"labelOverlap":false,"labelBound":false}},
  "y2":{"field":"h"},
  "color":{"condition":{"test":"datum.c >= datum.o","value":"#32CD32"},"value":"#FF0000"}}},
{"data":{"name":"bars"},"mark":{"type":"bar","size":3,"clip":true},
 "encoding":{
  "x":{"field":"i","type":"quantitative","title":null,"scale":{"domain":[-0.167,300.833],"nice":false,"zero":false}},
  "y":{"field":"o","type":"quantitative","title":null,"scale":{"domain":[1882.2,1987.07],"nice":false,"zero":false}},
  "y2":{"field":"c"},
  "color":{"condition":{"test":"datum.c >= datum.o","value":"#32CD32"},"value":"#FF0000"}}},
{"data":{"name":"ma"},"mark":{"type":"line","strokeWidth":1,"clip":true},
 "encoding":{
  "x":{"field":"i","type":"quantitative","title":null,"scale":{"domain":[-0.167,300.833],"nice":false,"zero":false}},
  "y":{"field":"v","type":"quantitative","title":null,"scale":{"domain":[1882.2,1987.07],"nice":false,"zero":false}},
  "color":{"field":"s","type":"nominal","scale":{"domain":["jaw","teeth","lips"],"range":["#0000FF","#FF0000","#00FF00"]},"legend":null},
  "order":{"field":"i","type":"quantitative"}}},
{"data":{"name":"lv"},"mark":{"type":"rule","color":"#FF0000","strokeWidth":1},
 "encoding":{"y":{"field":"p","type":"quantitative","title":null,"scale":{"domain":[1882.2,1987.07],"nice":false,"zero":false}}}},
{"data":{"name":"bid"},"mark":{"type":"rule","color":"#C8C8C8","strokeWidth":1},
 "encoding":{"y":{"field":"p","type":"quantitative","title":null,"scale":{"domain":[1882.2,1987.07],"nice":false,"zero":false}}}},
{"data":{"name":"lv"},"mark":{"type":"rect","color":"#FF0000","yOffset":-5,"y2Offset":5},
 "encoding":{"x":{"datum":301.35,"type":"quantitative"},"x2":{"datum":311.6},
  "y":{"field":"p","type":"quantitative","title":null,"scale":{"domain":[1882.2,1987.07],"nice":false,"zero":false}},"y2":{"field":"p"}}},
{"data":{"name":"bid"},"mark":{"type":"rect","color":"#FFFFE0","yOffset":-5,"y2Offset":5},
 "encoding":{"x":{"datum":301.35,"type":"quantitative"},"x2":{"datum":311.6},
  "y":{"field":"p","type":"quantitative","title":null,"scale":{"domain":[1882.2,1987.07],"nice":false,"zero":false}},"y2":{"field":"p"}}},
{"data":{"name":"lv"},"mark":{"type":"text","color":"#3A0000","fontSize":10,"align":"center","baseline":"middle","font":"Liberation Sans"},
 "encoding":{"x":{"datum":306.5,"type":"quantitative"},
  "y":{"field":"p","type":"quantitative","title":null,"scale":{"domain":[1882.2,1987.07],"nice":false,"zero":false}},"text":{"field":"t"}}},
{"data":{"name":"bid"},"mark":{"type":"text","color":"#000000","fontSize":10,"align":"center","baseline":"middle","font":"Liberation Sans"},
 "encoding":{"x":{"datum":306.5,"type":"quantitative"},
  "y":{"field":"p","type":"quantitative","title":null,"scale":{"domain":[1882.2,1987.07],"nice":false,"zero":false}},"text":{"field":"t"}}},
{"data":{"name":"info"},"mark":{"type":"text","color":"#F4EFCF","fontSize":10,"align":"left","baseline":"middle","font":"Liberation Sans"},
 "encoding":{"x":{"datum":3.6,"type":"quantitative"},"y":{"datum":1985.0,"type":"quantitative"},"text":{"field":"t"}}},
{"data":{"name":"info"},"mark":{"type":"point","shape":"triangle-down","filled":true,"color":"#F4EFCF","size":22,"opacity":1},
 "encoding":{"x":{"datum":1.3,"type":"quantitative"},"y":{"datum":1985.2,"type":"quantitative"}}},
{"data":{"name":"info"},"mark":{"type":"point","shape":"triangle-down","filled":true,"color":"#B4B4B4","size":90,"opacity":1,"clip":true},
 "encoding":{"x":{"datum":240.3,"type":"quantitative"},"y":{"datum":1986.6,"type":"quantitative"}}}
]
},
{
"width":1204,"height":60,
"view":{"stroke":"#F2EED2"},
"data":{"name":"bars"},
"transform":[{"window":[{"op":"lag","field":"ao","as":"pao"}],"sort":[{"field":"i"}]}],
"layer":[
{"mark":{"type":"rule","strokeWidth":2,"clip":true},
 "encoding":{
  "x":{"field":"i","type":"quantitative","title":null,"scale":{"domain":[-0.167,300.833],"nice":false,"zero":false},"axis":null},
  "y":{"field":"ao","type":"quantitative","title":null,"scale":{"domain":[-22.2,26.6],"nice":false,"zero":false},"axis":{"orient":"right","values":[22.267,0,-20.162],"tickCount":10,"labelExpr":"datum.value == 0 ? '0.00' : format(datum.value, '.3f')","tickSize":3,"labelPadding":3,"labelOffset":{"condition":[{"test":"datum.value > 1","value":2.5},{"test":"datum.value < -1","value":-3.5}],"value":-0.6},"domain":false,"labelOverlap":false}},
  "y2":{"datum":0},
  "color":{"condition":{"test":"datum.pao == null || datum.ao > datum.pao","value":"#32CD32"},"value":"#FF0000"}}},
{"mark":{"type":"text","text":"AO 10.533","color":"#F4EFCF","fontSize":10,"align":"left","baseline":"middle","font":"Liberation Sans"},
 "transform":[{"filter":"datum.i == 0"}],
 "encoding":{"x":{"datum":1.1,"type":"quantitative"},"y":{"datum":18.7,"type":"quantitative"}}}
]
},
{
"width":1204,"height":57,
"view":{"stroke":"#F2EED2"},
"data":{"name":"bars"},
"transform":[{"window":[{"op":"lag","field":"ac","as":"pac"}],"sort":[{"field":"i"}]}],
"layer":[
{"mark":{"type":"rule","strokeWidth":2,"clip":true},
 "encoding":{
  "x":{"field":"i","type":"quantitative","title":null,"scale":{"domain":[-0.167,300.833],"nice":false,"zero":false},
   "axis":{"orient":"bottom","values":[0,16,32,48,64,80,96,112,128,144,160,176,192,208,224],"tickCount":40,"labelExpr":"['26 Jul 2023','31 Jul 05:00','2 Aug 21:00','7 Aug 13:00','10 Aug 05:00','14 Aug 21:00','17 Aug 13:00','22 Aug 05:00','24 Aug 21:00','29 Aug 13:00','1 Sep 05:00','6 Sep 01:00','8 Sep 17:00','13 Sep 09:00','18 Sep 01:00'][round(datum.value/16)]","labelAlign":"left","labelBaseline":"top","tickSize":3,"labelPadding":3,"domain":true,"labelOverlap":false}},
  "y":{"field":"ac","type":"quantitative","title":null,"scale":{"domain":[-11.13,8.39],"nice":false,"zero":false},"axis":{"orient":"right","values":[6.7853,0,-9.8997],"tickCount":10,"labelExpr":"datum.value == 0 ? '0.00' : format(datum.value, '.4f')","tickSize":3,"labelPadding":3,"labelOffset":{"condition":[{"test":"datum.value > 1","value":3},{"test":"datum.value < -1","value":-3}],"value":-0.5},"domain":false,"labelOverlap":false}},
  "y2":{"datum":0},
  "color":{"condition":{"test":"datum.pac == null || datum.ac > datum.pac","value":"#32CD32"},"value":"#FF0000"}}},
{"mark":{"type":"text","text":"AC -2.1205","color":"#F4EFCF","fontSize":10,"align":"left","baseline":"middle","font":"Liberation Sans"},
 "transform":[{"filter":"datum.i == 0"}],
 "encoding":{"x":{"datum":1.1,"type":"quantitative"},"y":{"datum":5.2,"type":"quantitative"}}}
]
}
]
}
